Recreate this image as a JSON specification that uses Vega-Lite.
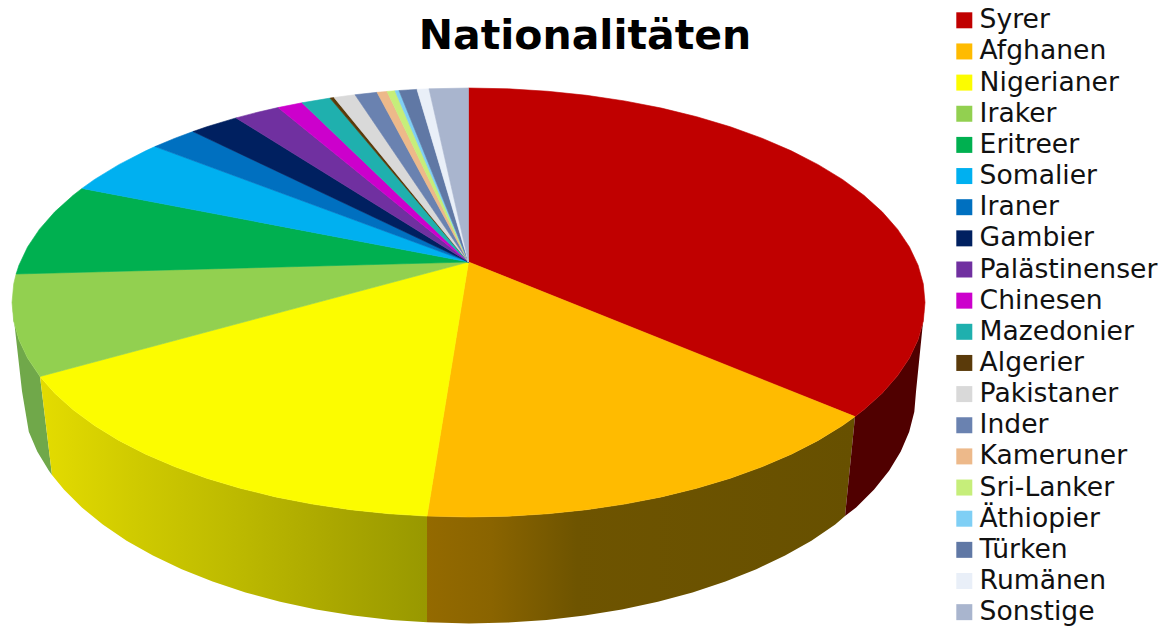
{
  "$schema": "https://vega.github.io/schema/vega-lite/v6.json",
  "width": 1167,
  "height": 628,
  "padding": 0,
  "autosize": "none",
  "background": "white",
  "view": {"stroke": null},
  "title": {"text": "Nationalitäten", "font": "DejaVu Sans", "fontWeight": "bold", "fontSize": 41, "color": "#000000", "anchor": "middle", "frame": "group", "baseline": "alphabetic", "offset": -50, "dx": 1.5, "dy": 40},
  "datasets": {
    "sides": [
      {"n":"Iraker","i":0,"u":-0.9386,"v":-0.345},{"n":"Iraker","i":1,"u":-0.9659,"v":-0.2588},{"n":"Iraker","i":2,"u":-0.9848,"v":-0.1736},{"n":"Iraker","i":3,"u":-0.9962,"v":-0.0872},{"n":"Iraker","i":4,"u":-1,"v":0},{"n":"Iraker","i":5,"u":-0.978,"v":-0.4149},{"n":"Iraker","i":6,"u":-0.9632,"v":-0.6027},{"n":"Iraker","i":7,"u":-0.9447,"v":-0.6948},{"n":"Iraker","i":8,"u":-0.9191,"v":-0.7848},{"n":"Iraker","i":9,"u":-0.9124,"v":-0.8042},

      {"n":"Nigerianer","i":0,"u":-0.9386,"v":-0.345},{"n":"Nigerianer","i":1,"u":-0.9063,"v":-0.4226},{"n":"Nigerianer","i":2,"u":-0.866,"v":-0.5},{"n":"Nigerianer","i":3,"u":-0.8192,"v":-0.5736},{"n":"Nigerianer","i":4,"u":-0.766,"v":-0.6428},{"n":"Nigerianer","i":5,"u":-0.7071,"v":-0.7071},{"n":"Nigerianer","i":6,"u":-0.6428,"v":-0.766},{"n":"Nigerianer","i":7,"u":-0.5736,"v":-0.8192},{"n":"Nigerianer","i":8,"u":-0.5,"v":-0.866},{"n":"Nigerianer","i":9,"u":-0.4226,"v":-0.9063},{"n":"Nigerianer","i":10,"u":-0.342,"v":-0.9397},{"n":"Nigerianer","i":11,"u":-0.2588,"v":-0.9659},{"n":"Nigerianer","i":12,"u":-0.1736,"v":-0.9848},{"n":"Nigerianer","i":13,"u":-0.0909,"v":-0.9959},{"n":"Nigerianer","i":14,"u":-0.0909,"v":-1.491},{"n":"Nigerianer","i":15,"u":-0.1689,"v":-1.4801},{"n":"Nigerianer","i":16,"u":-0.2523,"v":-1.4596},{"n":"Nigerianer","i":17,"u":-0.3338,"v":-1.4313},{"n":"Nigerianer","i":18,"u":-0.4127,"v":-1.3951},{"n":"Nigerianer","i":19,"u":-0.4885,"v":-1.3516},{"n":"Nigerianer","i":20,"u":-0.5606,"v":-1.3009},{"n":"Nigerianer","i":21,"u":-0.6283,"v":-1.2434},{"n":"Nigerianer","i":22,"u":-0.6913,"v":-1.1797},{"n":"Nigerianer","i":23,"u":-0.749,"v":-1.1102},{"n":"Nigerianer","i":24,"u":-0.8011,"v":-1.0353},{"n":"Nigerianer","i":25,"u":-0.8469,"v":-0.9557},{"n":"Nigerianer","i":26,"u":-0.8863,"v":-0.872},{"n":"Nigerianer","i":27,"u":-0.9124,"v":-0.8042},

      {"n":"Afghanen","i":0,"u":-0.0909,"v":-0.9959},{"n":"Afghanen","i":1,"u":0,"v":-1},{"n":"Afghanen","i":2,"u":0.0872,"v":-0.9962},{"n":"Afghanen","i":3,"u":0.1736,"v":-0.9848},{"n":"Afghanen","i":4,"u":0.2588,"v":-0.9659},{"n":"Afghanen","i":5,"u":0.342,"v":-0.9397},{"n":"Afghanen","i":6,"u":0.4226,"v":-0.9063},{"n":"Afghanen","i":7,"u":0.5,"v":-0.866},{"n":"Afghanen","i":8,"u":0.5736,"v":-0.8192},{"n":"Afghanen","i":9,"u":0.6428,"v":-0.766},{"n":"Afghanen","i":10,"u":0.7071,"v":-0.7071},{"n":"Afghanen","i":11,"u":0.766,"v":-0.6428},{"n":"Afghanen","i":12,"u":0.8192,"v":-0.5736},{"n":"Afghanen","i":13,"u":0.8467,"v":-0.532},{"n":"Afghanen","i":14,"u":0.8248,"v":-0.995},{"n":"Afghanen","i":15,"u":0.8033,"v":-1.0353},{"n":"Afghanen","i":16,"u":0.7512,"v":-1.1102},{"n":"Afghanen","i":17,"u":0.6935,"v":-1.1797},{"n":"Afghanen","i":18,"u":0.6305,"v":-1.2434},{"n":"Afghanen","i":19,"u":0.5628,"v":-1.3009},{"n":"Afghanen","i":20,"u":0.4907,"v":-1.3516},{"n":"Afghanen","i":21,"u":0.4149,"v":-1.3951},{"n":"Afghanen","i":22,"u":0.336,"v":-1.4313},{"n":"Afghanen","i":23,"u":0.2545,"v":-1.4596},{"n":"Afghanen","i":24,"u":0.1711,"v":-1.4801},{"n":"Afghanen","i":25,"u":0.0865,"v":-1.4924},{"n":"Afghanen","i":26,"u":0.0011,"v":-1.4965},{"n":"Afghanen","i":27,"u":-0.0909,"v":-1.491},

      {"n":"Syrer","i":0,"u":0.8467,"v":-0.532},{"n":"Syrer","i":1,"u":0.866,"v":-0.5},{"n":"Syrer","i":2,"u":0.9063,"v":-0.4226},{"n":"Syrer","i":3,"u":0.9397,"v":-0.342},{"n":"Syrer","i":4,"u":0.9659,"v":-0.2588},{"n":"Syrer","i":5,"u":0.9848,"v":-0.1736},{"n":"Syrer","i":6,"u":0.9962,"v":-0.0872},{"n":"Syrer","i":7,"u":1,"v":0},{"n":"Syrer","i":8,"u":0.9803,"v":-0.4149},{"n":"Syrer","i":9,"u":0.9766,"v":-0.5091},{"n":"Syrer","i":10,"u":0.9654,"v":-0.6027},{"n":"Syrer","i":11,"u":0.9469,"v":-0.6948},{"n":"Syrer","i":12,"u":0.9213,"v":-0.7848},{"n":"Syrer","i":13,"u":0.8885,"v":-0.872},{"n":"Syrer","i":14,"u":0.8491,"v":-0.9557},{"n":"Syrer","i":15,"u":0.8248,"v":-0.995}
    ],
    "faces": [
      {"n":"Syrer","i":0,"u":0,"v":0.1888},{"n":"Syrer","i":1,"u":0,"v":1},{"n":"Syrer","i":2,"u":0.0872,"v":0.9962},{"n":"Syrer","i":3,"u":0.1736,"v":0.9848},{"n":"Syrer","i":4,"u":0.2588,"v":0.9659},{"n":"Syrer","i":5,"u":0.342,"v":0.9397},{"n":"Syrer","i":6,"u":0.4226,"v":0.9063},{"n":"Syrer","i":7,"u":0.5,"v":0.866},{"n":"Syrer","i":8,"u":0.5736,"v":0.8192},{"n":"Syrer","i":9,"u":0.6428,"v":0.766},{"n":"Syrer","i":10,"u":0.7071,"v":0.7071},{"n":"Syrer","i":11,"u":0.766,"v":0.6428},{"n":"Syrer","i":12,"u":0.8192,"v":0.5736},{"n":"Syrer","i":13,"u":0.866,"v":0.5},{"n":"Syrer","i":14,"u":0.9063,"v":0.4226},{"n":"Syrer","i":15,"u":0.9397,"v":0.342},{"n":"Syrer","i":16,"u":0.9659,"v":0.2588},{"n":"Syrer","i":17,"u":0.9848,"v":0.1736},{"n":"Syrer","i":18,"u":0.9962,"v":0.0872},{"n":"Syrer","i":19,"u":1,"v":0},{"n":"Syrer","i":20,"u":0.9962,"v":-0.0872},{"n":"Syrer","i":21,"u":0.9848,"v":-0.1736},{"n":"Syrer","i":22,"u":0.9659,"v":-0.2588},{"n":"Syrer","i":23,"u":0.9397,"v":-0.342},{"n":"Syrer","i":24,"u":0.9063,"v":-0.4226},{"n":"Syrer","i":25,"u":0.866,"v":-0.5},{"n":"Syrer","i":26,"u":0.8467,"v":-0.532},{"n":"Syrer","i":27,"u":0,"v":0.1888},

      {"n":"Afghanen","i":0,"u":0,"v":0.1888},{"n":"Afghanen","i":1,"u":0.8467,"v":-0.532},{"n":"Afghanen","i":2,"u":0.8192,"v":-0.5736},{"n":"Afghanen","i":3,"u":0.766,"v":-0.6428},{"n":"Afghanen","i":4,"u":0.7071,"v":-0.7071},{"n":"Afghanen","i":5,"u":0.6428,"v":-0.766},{"n":"Afghanen","i":6,"u":0.5736,"v":-0.8192},{"n":"Afghanen","i":7,"u":0.5,"v":-0.866},{"n":"Afghanen","i":8,"u":0.4226,"v":-0.9063},{"n":"Afghanen","i":9,"u":0.342,"v":-0.9397},{"n":"Afghanen","i":10,"u":0.2588,"v":-0.9659},{"n":"Afghanen","i":11,"u":0.1736,"v":-0.9848},{"n":"Afghanen","i":12,"u":0.0872,"v":-0.9962},{"n":"Afghanen","i":13,"u":0,"v":-1},{"n":"Afghanen","i":14,"u":-0.0909,"v":-0.9959},{"n":"Afghanen","i":15,"u":0,"v":0.1888},

      {"n":"Nigerianer","i":0,"u":0,"v":0.1888},{"n":"Nigerianer","i":1,"u":-0.0909,"v":-0.9959},{"n":"Nigerianer","i":2,"u":-0.1736,"v":-0.9848},{"n":"Nigerianer","i":3,"u":-0.2588,"v":-0.9659},{"n":"Nigerianer","i":4,"u":-0.342,"v":-0.9397},{"n":"Nigerianer","i":5,"u":-0.4226,"v":-0.9063},{"n":"Nigerianer","i":6,"u":-0.5,"v":-0.866},{"n":"Nigerianer","i":7,"u":-0.5736,"v":-0.8192},{"n":"Nigerianer","i":8,"u":-0.6428,"v":-0.766},{"n":"Nigerianer","i":9,"u":-0.7071,"v":-0.7071},{"n":"Nigerianer","i":10,"u":-0.766,"v":-0.6428},{"n":"Nigerianer","i":11,"u":-0.8192,"v":-0.5736},{"n":"Nigerianer","i":12,"u":-0.866,"v":-0.5},{"n":"Nigerianer","i":13,"u":-0.9063,"v":-0.4226},{"n":"Nigerianer","i":14,"u":-0.9386,"v":-0.345},{"n":"Nigerianer","i":15,"u":0,"v":0.1888},

      {"n":"Iraker","i":0,"u":0,"v":0.1888},{"n":"Iraker","i":1,"u":-0.9386,"v":-0.345},{"n":"Iraker","i":2,"u":-0.9659,"v":-0.2588},{"n":"Iraker","i":3,"u":-0.9848,"v":-0.1736},{"n":"Iraker","i":4,"u":-0.9962,"v":-0.0872},{"n":"Iraker","i":5,"u":-1,"v":0},{"n":"Iraker","i":6,"u":-0.9962,"v":0.0872},{"n":"Iraker","i":7,"u":-0.991,"v":0.133},{"n":"Iraker","i":8,"u":0,"v":0.1888},

      {"n":"Eritreer","i":0,"u":0,"v":0.1888},{"n":"Eritreer","i":1,"u":-0.991,"v":0.133},{"n":"Eritreer","i":2,"u":-0.9848,"v":0.1736},{"n":"Eritreer","i":3,"u":-0.9659,"v":0.2588},{"n":"Eritreer","i":4,"u":-0.9397,"v":0.342},{"n":"Eritreer","i":5,"u":-0.9063,"v":0.4226},{"n":"Eritreer","i":6,"u":-0.866,"v":0.5},{"n":"Eritreer","i":7,"u":-0.8467,"v":0.532},{"n":"Eritreer","i":8,"u":0,"v":0.1888},

      {"n":"Somalier","i":0,"u":0,"v":0.1888},{"n":"Somalier","i":1,"u":-0.8467,"v":0.532},{"n":"Somalier","i":2,"u":-0.8192,"v":0.5736},{"n":"Somalier","i":3,"u":-0.766,"v":0.6428},{"n":"Somalier","i":4,"u":-0.7071,"v":0.7071},{"n":"Somalier","i":5,"u":-0.6867,"v":0.727},{"n":"Somalier","i":6,"u":0,"v":0.1888},

      {"n":"Iraner","i":0,"u":0,"v":0.1888},{"n":"Iraner","i":1,"u":-0.6867,"v":0.727},{"n":"Iraner","i":2,"u":-0.6428,"v":0.766},{"n":"Iraner","i":3,"u":-0.6035,"v":0.797},{"n":"Iraner","i":4,"u":0,"v":0.1888},

      {"n":"Gambier","i":0,"u":0,"v":0.1888},{"n":"Gambier","i":1,"u":-0.6035,"v":0.797},{"n":"Gambier","i":2,"u":-0.5736,"v":0.8192},{"n":"Gambier","i":3,"u":-0.5093,"v":0.8606},{"n":"Gambier","i":4,"u":0,"v":0.1888},

      {"n":"Palästinenser","i":0,"u":0,"v":0.1888},{"n":"Palästinenser","i":1,"u":-0.5093,"v":0.8606},{"n":"Palästinenser","i":2,"u":-0.4645,"v":0.8856},{"n":"Palästinenser","i":3,"u":-0.4173,"v":0.9088},{"n":"Palästinenser","i":4,"u":0,"v":0.1888},

      {"n":"Chinesen","i":0,"u":0,"v":0.1888},{"n":"Chinesen","i":1,"u":-0.4173,"v":0.9088},{"n":"Chinesen","i":2,"u":-0.3647,"v":0.9311},{"n":"Chinesen","i":3,"u":0,"v":0.1888},

      {"n":"Mazedonier","i":0,"u":0,"v":0.1888},{"n":"Mazedonier","i":1,"u":-0.3647,"v":0.9311},{"n":"Mazedonier","i":2,"u":-0.3034,"v":0.9529},{"n":"Mazedonier","i":3,"u":0,"v":0.1888},

      {"n":"Algerier","i":0,"u":0,"v":0.1888},{"n":"Algerier","i":1,"u":-0.3034,"v":0.9529},{"n":"Algerier","i":2,"u":-0.2946,"v":0.9556},{"n":"Algerier","i":3,"u":0,"v":0.1888},

      {"n":"Pakistaner","i":0,"u":0,"v":0.1888},{"n":"Pakistaner","i":1,"u":-0.2946,"v":0.9556},{"n":"Pakistaner","i":2,"u":-0.2486,"v":0.9686},{"n":"Pakistaner","i":3,"u":0,"v":0.1888},

      {"n":"Inder","i":0,"u":0,"v":0.1888},{"n":"Inder","i":1,"u":-0.2486,"v":0.9686},{"n":"Inder","i":2,"u":-0.2004,"v":0.9797},{"n":"Inder","i":3,"u":0,"v":0.1888},

      {"n":"Kameruner","i":0,"u":0,"v":0.1888},{"n":"Kameruner","i":1,"u":-0.2004,"v":0.9797},{"n":"Kameruner","i":2,"u":-0.1785,"v":0.9839},{"n":"Kameruner","i":3,"u":0,"v":0.1888},

      {"n":"Sri-Lanker","i":0,"u":0,"v":0.1888},{"n":"Sri-Lanker","i":1,"u":-0.1785,"v":0.9839},{"n":"Sri-Lanker","i":2,"u":-0.161,"v":0.987},{"n":"Sri-Lanker","i":3,"u":0,"v":0.1888},

      {"n":"Äthiopier","i":0,"u":0,"v":0.1888},{"n":"Äthiopier","i":1,"u":-0.161,"v":0.987},{"n":"Äthiopier","i":2,"u":-0.1522,"v":0.9883},{"n":"Äthiopier","i":3,"u":0,"v":0.1888},

      {"n":"Türken","i":0,"u":0,"v":0.1888},{"n":"Türken","i":1,"u":-0.1522,"v":0.9883},{"n":"Türken","i":2,"u":-0.1128,"v":0.9936},{"n":"Türken","i":3,"u":0,"v":0.1888},

      {"n":"Rumänen","i":0,"u":0,"v":0.1888},{"n":"Rumänen","i":1,"u":-0.1128,"v":0.9936},{"n":"Rumänen","i":2,"u":-0.0865,"v":0.9963},{"n":"Rumänen","i":3,"u":0,"v":0.1888},

      {"n":"Sonstige","i":0,"u":0,"v":0.1888},{"n":"Sonstige","i":1,"u":-0.0865,"v":0.9963},{"n":"Sonstige","i":2,"u":0,"v":1},{"n":"Sonstige","i":3,"u":0,"v":0.1888}
    ]
  },
  "encoding": {
    "x": {"field": "u", "type": "quantitative", "axis": null, "scale": {"domain": [-1.0263, 1.5301], "nice": false, "zero": false}},
    "y": {"field": "v", "type": "quantitative", "axis": null, "scale": {"domain": [-1.5175, 1.4103], "nice": false, "zero": false}},
    "order": {"field": "i", "type": "quantitative"}
  },
  "layer": [
    {
      "data": {"name": "sides"},
      "transform": [{"filter": "datum.n === 'Iraker'"}],
      "mark": {"type": "line", "filled": true, "fill": "#70A84A", "strokeWidth": 0}
    },
    {
      "data": {"name": "sides"},
      "transform": [{"filter": "datum.n === 'Nigerianer'"}],
      "mark": {"type": "line", "filled": true, "strokeWidth": 0, "fill": {"gradient": "linear", "x1": 0, "y1": 0, "x2": 1, "y2": 0, "stops": [{"offset": 0, "color": "#E4DC00"}, {"offset": 0.25, "color": "#CFCA00"}, {"offset": 0.5, "color": "#BDBA00"}, {"offset": 0.75, "color": "#ABA800"}, {"offset": 1, "color": "#989800"}]}}
    },
    {
      "data": {"name": "sides"},
      "transform": [{"filter": "datum.n === 'Afghanen'"}],
      "mark": {"type": "line", "filled": true, "strokeWidth": 0, "fill": {"gradient": "linear", "x1": 0, "y1": 0, "x2": 1, "y2": 0, "stops": [{"offset": 0, "color": "#946A00"}, {"offset": 0.15, "color": "#8A6400"}, {"offset": 0.35, "color": "#6E5400"}, {"offset": 1, "color": "#675000"}]}}
    },
    {
      "data": {"name": "sides"},
      "transform": [{"filter": "datum.n === 'Syrer'"}],
      "mark": {"type": "line", "filled": true, "fill": "#500000", "strokeWidth": 0}
    },
    {
      "data": {"name": "faces"},
      "mark": {"type": "line", "filled": true, "strokeWidth": 0.6},
      "encoding": {
        "fill": {
          "field": "n",
          "type": "nominal",
          "scale": {
            "domain": ["Syrer","Afghanen","Nigerianer","Iraker","Eritreer","Somalier","Iraner","Gambier","Palästinenser","Chinesen","Mazedonier","Algerier","Pakistaner","Inder","Kameruner","Sri-Lanker","Äthiopier","Türken","Rumänen","Sonstige"],
            "range": ["#C00000","#FFBB00","#FCFC00","#92D050","#00B050","#00B0F0","#0070C0","#002060","#7030A0","#CC00CC","#1FB0AE","#5A3A0A","#D9D9D9","#6A82B0","#EDB98A","#C6EE7A","#7FCFF5","#6078A5","#E9EFF8","#A9B5CE"]
          },
          "legend": {
            "title": null,
            "orient": "none",
            "legendX": 951,
            "legendY": 7,
            "columns": 1,
            "symbolType": "square",
            "symbolSize": 256,
            "symbolStrokeWidth": 0,
            "labelFont": "DejaVu Sans",
            "labelFontSize": 26.6,
            "labelColor": "#111111",
            "labelOffset": 2,
            "labelLimit": 300,
            "rowPadding": 4.15
          }
        },
        "stroke": {
          "field": "n",
          "type": "nominal",
          "legend": null,
          "scale": {
            "domain": ["Syrer","Afghanen","Nigerianer","Iraker","Eritreer","Somalier","Iraner","Gambier","Palästinenser","Chinesen","Mazedonier","Algerier","Pakistaner","Inder","Kameruner","Sri-Lanker","Äthiopier","Türken","Rumänen","Sonstige"],
            "range": ["#C00000","#FFBB00","#FCFC00","#92D050","#00B050","#00B0F0","#0070C0","#002060","#7030A0","#CC00CC","#1FB0AE","#5A3A0A","#D9D9D9","#6A82B0","#EDB98A","#C6EE7A","#7FCFF5","#6078A5","#E9EFF8","#A9B5CE"]
          }
        }
      }
    }
  ]
}
